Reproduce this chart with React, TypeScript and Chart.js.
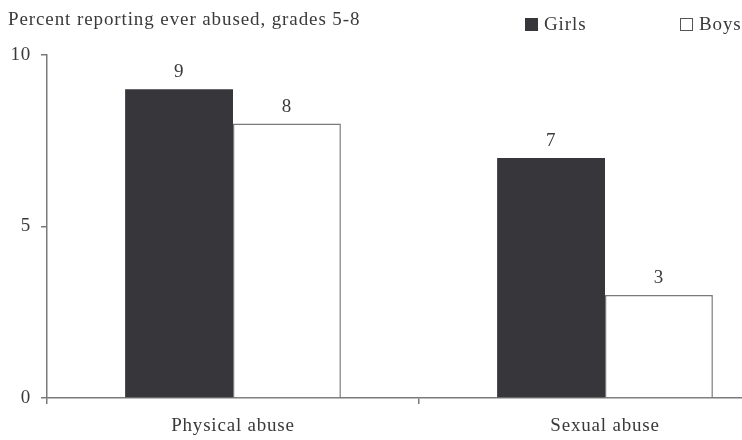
import React, { useEffect, useRef } from "react";
import { Chart, registerables } from "chart.js";

Chart.register(...registerables);

const categories = ["Physical abuse", "Sexual abuse"];
const seriesNames = ["Girls", "Boys"];
const girlsValues = [9, 7];
const boysValues = [8, 3];
const yTicks = [0, 5, 10];
const titleText = "Percent reporting ever abused, grades 5-8";

const FONT = "'Liberation Serif', 'Times New Roman', serif";
const TEXT = "#3a3a3a";
const AXIS = "#7a7a7a";
const DARK = "#37363b";
const SPACING = "0.8px";

export default function App() {
  const ref = useRef<HTMLCanvasElement | null>(null);
  useEffect(() => {
    if (!ref.current) return;
    const spacing = {
      id: "spacing",
      beforeInit(chart: any) {
        chart.ctx.letterSpacing = SPACING;
      },
      beforeDraw(chart: any) {
        chart.ctx.letterSpacing = SPACING;
      },
    };
    const overlay = {
      id: "overlay",
      afterDatasetsDraw(chart: any) {
        const ctx = chart.ctx;
        ctx.save();
        ctx.letterSpacing = SPACING;
        ctx.fillStyle = TEXT;
        ctx.font = `19px ${FONT}`;
        ctx.textAlign = "center";
        ctx.textBaseline = "alphabetic";
        chart.data.datasets.forEach((ds: any, i: number) => {
          const meta = chart.getDatasetMeta(i);
          meta.data.forEach((bar: any, j: number) => {
            ctx.fillText(String(ds.data[j]), bar.x, bar.y - 12);
          });
        });
        // title
        ctx.textAlign = "left";
        ctx.textBaseline = "middle";
        ctx.letterSpacing = "0.9px";
        ctx.fillText(titleText, 8, 20);
        // legend
        ctx.letterSpacing = "0.9px";
        const legendX = [525, 680];
        chart.data.datasets.forEach((ds: any, i: number) => {
          const x = legendX[i];
          ctx.fillStyle = ds.backgroundColor;
          ctx.fillRect(x, 18, 13, 13);
          ctx.strokeStyle = i === 0 ? DARK : "#555";
          ctx.lineWidth = 1;
          ctx.strokeRect(x + 0.5, 18.5, 12, 12);
          ctx.fillStyle = TEXT;
          ctx.fillText(ds.label, x + 19, 25);
        });
        ctx.restore();
      },
    };
    const chart = new Chart(ref.current, {
      type: "bar",
      data: {
        labels: categories,
        datasets: [
          {
            label: seriesNames[0],
            data: girlsValues,
            backgroundColor: DARK,
            borderColor: DARK,
            borderWidth: 0,
          },
          {
            label: seriesNames[1],
            data: boysValues,
            backgroundColor: "#ffffff",
            borderColor: AXIS,
            borderWidth: 1.5,
          },
        ],
      },
      options: {
        responsive: false,
        animation: false,
        devicePixelRatio: 1,
        layout: { padding: { top: 55, left: 0, right: 9, bottom: 0 } },
        plugins: { legend: { display: false }, title: { display: false }, tooltip: { enabled: false } },
        datasets: { bar: { categoryPercentage: 0.58, barPercentage: 1 } },
        scales: {
          x: {
            offset: true,
            grid: { drawOnChartArea: false, drawTicks: true, tickLength: 6, color: AXIS, lineWidth: 1.5, offset: true },
            border: { color: AXIS, width: 1.5 },
            ticks: { color: TEXT, font: { family: FONT, size: 19 }, padding: 11, maxRotation: 0 },
            afterFit: (s: any) => { s.height = 42; },
          },
          y: {
            min: 0,
            max: 10,
            afterBuildTicks: (s: any) => { s.ticks = yTicks.map((v) => ({ value: v })); },
            grid: { drawOnChartArea: false, drawTicks: true, tickLength: 6, color: AXIS, lineWidth: 1.5 },
            border: { color: AXIS, width: 1.5 },
            ticks: { color: TEXT, font: { family: FONT, size: 19 }, padding: 10 },
            afterFit: (s: any) => { s.width = 47; },
          },
        },
      },
      plugins: [spacing, overlay],
    });
    return () => chart.destroy();
  }, []);
  return (
    <div style={{ position: "fixed", left: 0, top: 0, width: 742, height: 440, overflow: "hidden", background: "#fff" }}>
      <canvas ref={ref} width={800} height={440} style={{ width: 800, height: 440, display: "block" }} />
    </div>
  );
}
